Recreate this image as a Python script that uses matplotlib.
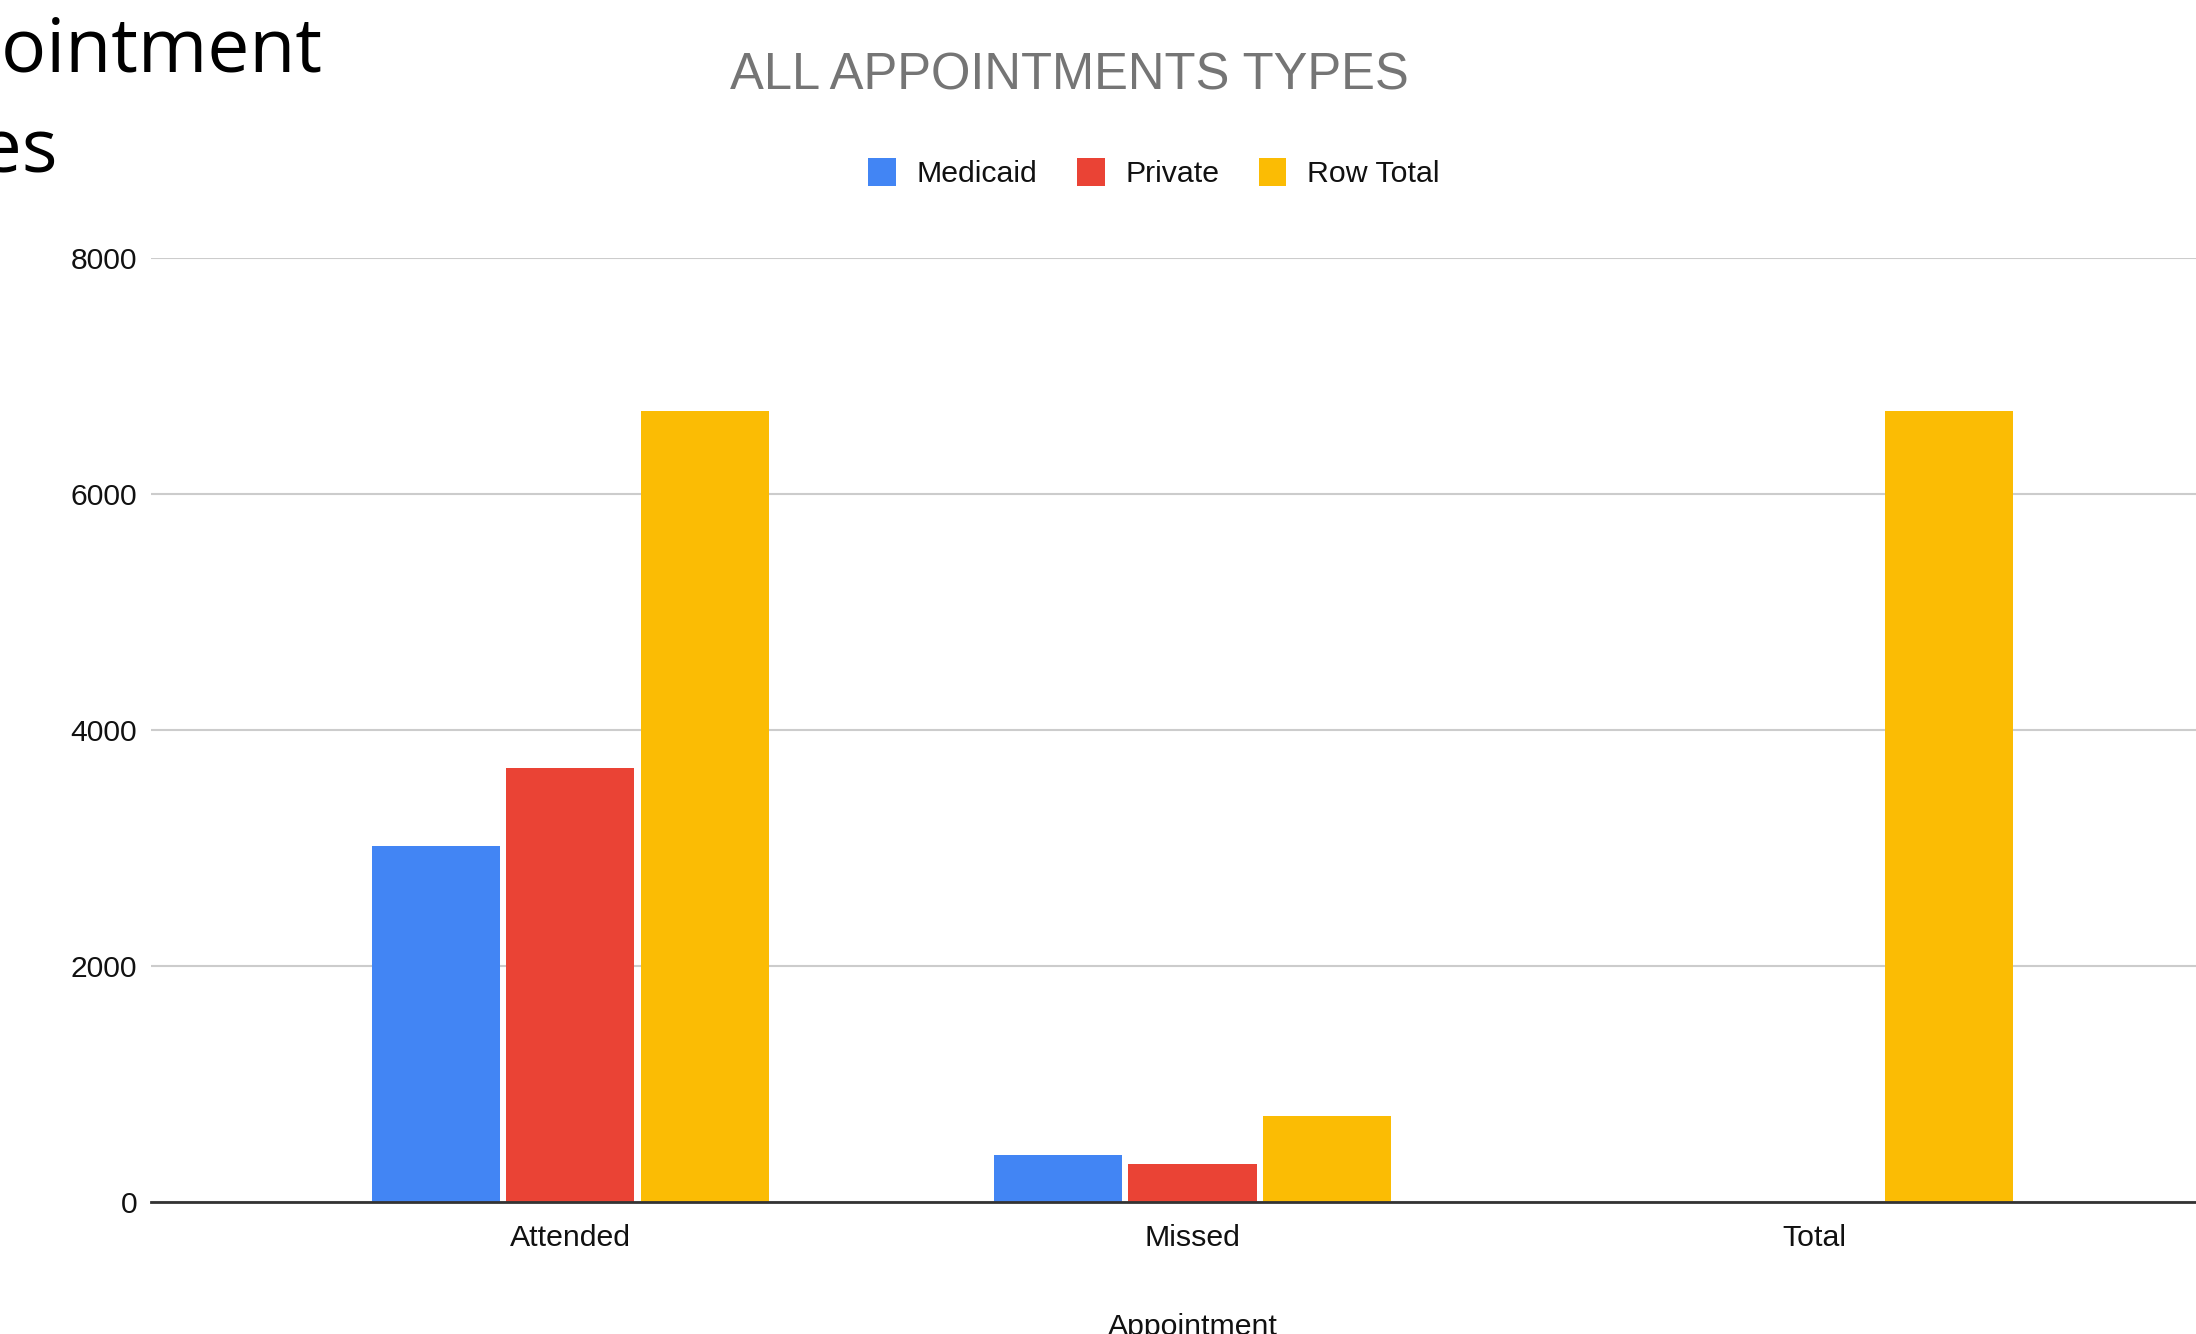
import matplotlib
matplotlib.use("Agg")
import matplotlib.pyplot as plt
from matplotlib import font_manager as fm
import numpy as np

categories = ["Attended", "Missed", "Total"]
series_names = ["Medicaid", "Private", "Row Total"]
medicaid = [3017, 396, 0]
private = [3678, 320, 0]
row_total = [6703, 726, 6703]
yticks = [0, 2000, 4000, 6000, 8000]
colors = ["#4285F4", "#EA4335", "#FBBC04"]

def pick(*names):
    for n in names:
        try:
            fm.findfont(fm.FontProperties(family=n), fallback_to_default=False)
            return n
        except Exception:
            pass
    return "DejaVu Sans"

sans = pick("Liberation Sans", "Arial")
slide_font = pick("Open Sans", "Noto Sans")

W, H = 2196, 1334
fig = plt.figure(figsize=(W / 100, H / 100), dpi=100)
fig.patch.set_facecolor("white")

ax = fig.add_axes([151 / W, 1 - 1201.7 / H, (W - 151) / W, (1201.7 - 257.7) / H])

x = np.arange(len(categories))
width = 0.206
step = 0.216
data = [medicaid, private, row_total]
handles = []
for i, (vals, c, name) in enumerate(zip(data, colors, series_names)):
    b = ax.bar(x + (i - 1) * step, vals, width=width, color=c, label=name, zorder=3)
    handles.append(b)

ax.set_xlim(-0.674, 2.613)
ax.set_ylim(0, 8000)
ax.set_yticks(yticks)
ax.set_yticklabels([str(v) for v in yticks], family=sans, fontsize=21.6, color="#111111")
ax.set_xticks(x)
ax.set_xticklabels(categories, family=sans, fontsize=21.8, color="#111111")
ax.tick_params(axis="y", length=0, pad=10)
ax.tick_params(axis="x", length=0, pad=16)
for s in ax.spines.values():
    s.set_visible(False)
ax.yaxis.grid(True, color="#cccccc", linewidth=1.5, zorder=0)
ax.set_axisbelow(True)
ax.axhline(0, color="#333333", linewidth=2.0, zorder=4, clip_on=False)

fig.text(1069 / W, 1 - 76 / H, "ALL APPOINTMENTS TYPES", ha="center", va="center",
         family=sans, fontsize=36.5, color="#757575")

leg = fig.legend(handles=handles, labels=series_names, loc="center",
                 bbox_to_anchor=(1154 / W, 1 - 173 / H), ncol=3, frameon=False,
                 prop={"family": sans, "size": 21.8},
                 handlelength=0.92, handleheight=1.06, handletextpad=0.69,
                 columnspacing=1.29, borderpad=0)
for t in leg.get_texts():
    t.set_color("#111111")

fig.text(1193 / W, 1 - 1313 / H, "Appointment", ha="center", va="top",
         family=sans, fontsize=21.8, color="#111111")

fig.text(322 / W, 1 - 71.7 / H, "Appointment", ha="right", va="baseline",
         family=slide_font, fontsize=54, color="black")
fig.text(58 / W, 1 - 172 / H, "Types", ha="right", va="baseline",
         family=slide_font, fontsize=54, color="black")

fig.savefig("out.png", dpi=100, facecolor="white")
